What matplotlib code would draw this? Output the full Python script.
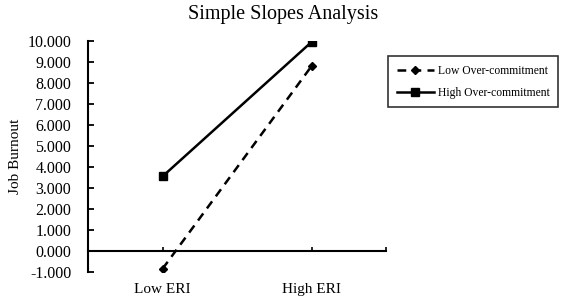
import matplotlib.pyplot as plt

categories = ['Low ERI', 'High ERI']
low_oc = [-0.85, 8.8]
high_oc = [3.55, 9.95]
yticks = [-1, 0, 1, 2, 3, 4, 5, 6, 7, 8, 9, 10]

plt.rcParams['font.family'] = ['Liberation Serif', 'DejaVu Serif']

fig = plt.figure(figsize=(5.67, 3.04), dpi=100)
ax = fig.add_axes([88/567, (304-272)/304, (386-88)/567, (272-41)/304])

x = list(range(len(categories)))
ax.plot(x, low_oc, color='black', lw=1.8, ls=(0, (3.5, 2.5)), marker='D', ms=4.5,
        label='Low Over-commitment')
ax.plot(x, high_oc, color='black', lw=1.8, marker='s', ms=6,
        label='High Over-commitment')

ax.set_xlim(-0.5, 1.5)
ax.set_ylim(-1, 10)
ax.set_yticks(yticks)
ax.set_yticklabels(['%.3f' % v for v in yticks], fontsize=11.5)
ax.tick_params(axis='y', direction='in', length=4, width=1.3, pad=12)

ax.spines['top'].set_visible(False)
ax.spines['right'].set_visible(False)
ax.spines['left'].set_linewidth(1.5)
ax.spines['bottom'].set_position(('data', 0))
ax.spines['bottom'].set_linewidth(1.5)

ax.set_xticks([0, 1, 1.5])
ax.set_xticklabels(categories + [''], fontsize=11)
ax.tick_params(axis='x', direction='in', length=3, width=1.2, pad=23)

ax.set_ylabel('Job Burnout', fontsize=11, labelpad=4)
fig.text(0.5, 1 - 15/304, 'Simple Slopes Analysis',
         ha='center', va='center', fontsize=14.5)

leg = fig.legend(loc='upper left', bbox_to_anchor=(388/567, 1 - 56/304),
                 fontsize=8.4, frameon=True, fancybox=False, edgecolor='black',
                 handlelength=3.2, borderpad=0.75, labelspacing=0.85,
                 handletextpad=0.3, borderaxespad=0)
leg.get_frame().set_linewidth(1.2)

fig.savefig('out.png', dpi=100)
